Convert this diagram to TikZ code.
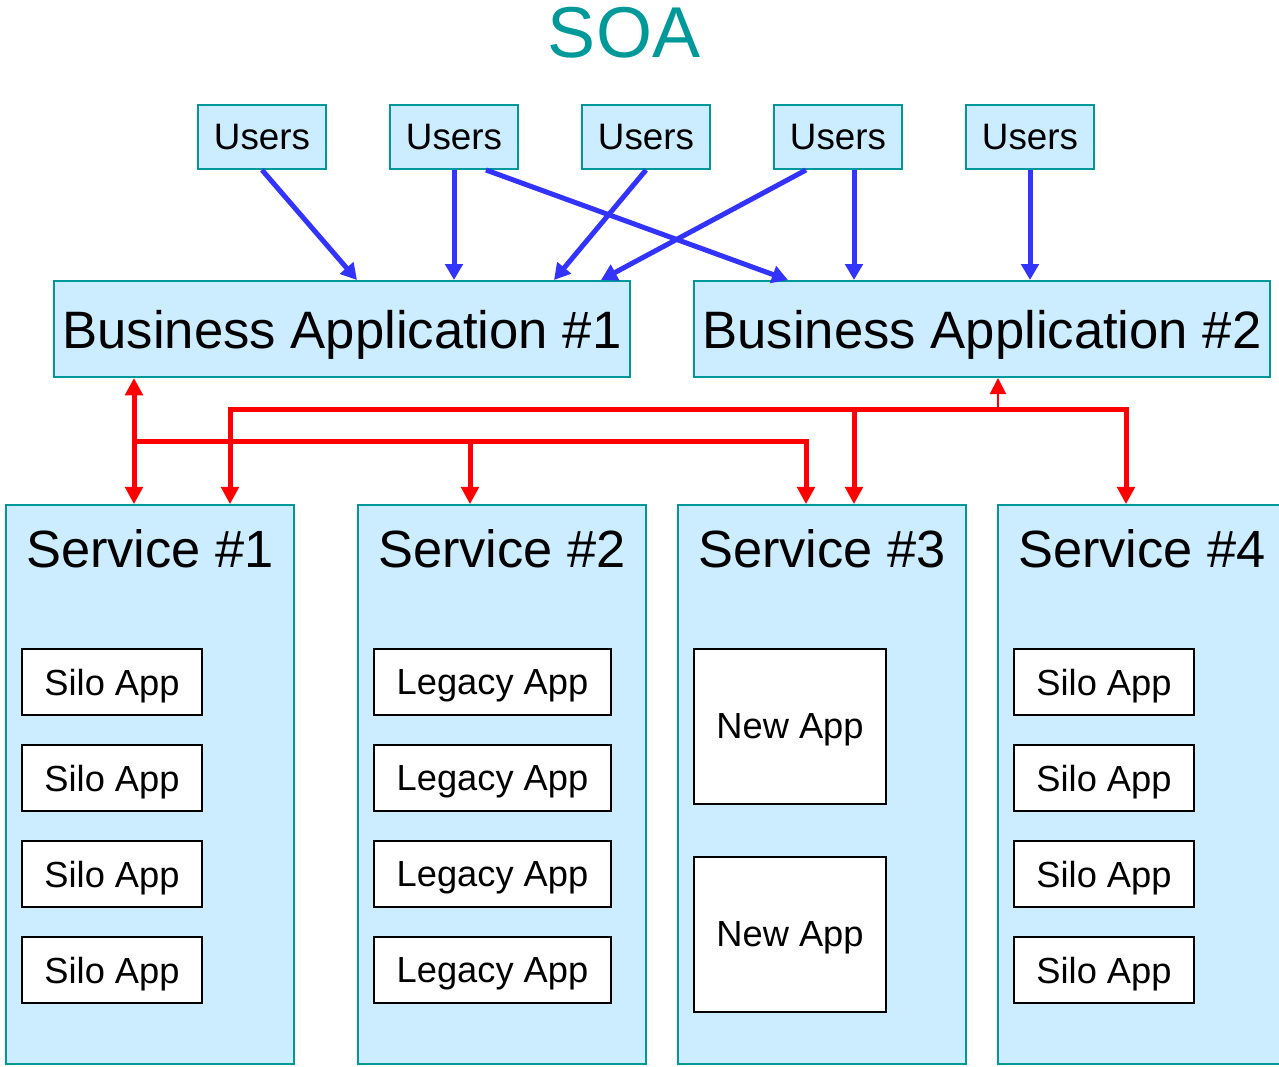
\documentclass[tikz,border=0pt]{standalone}
\usepackage{fontspec}
\setmainfont{Liberation Sans}
\usetikzlibrary{arrows.meta,calc}

\definecolor{soateal}{RGB}{0,153,153}
\definecolor{boxblue}{RGB}{204,236,255}
\definecolor{userblue}{RGB}{51,51,255}

\begin{document}
\begin{tikzpicture}[x=0.75pt,y=-0.75pt,
    users/.style={draw=soateal,fill=boxblue,line width=1.5pt,minimum width=96pt,minimum height=48pt,
      font=\fontsize{27.6}{30}\selectfont},
    bizapp/.style={draw=soateal,fill=boxblue,line width=1.5pt,minimum width=432pt,minimum height=72pt,
      text depth=0pt,font=\fontsize{39.5}{44}\selectfont},
    service/.style={draw=soateal,fill=boxblue,line width=1.5pt,minimum width=216pt,minimum height=419pt},
    svctitle/.style={anchor=north,inner sep=0pt,font=\fontsize{39.3}{42}\selectfont},
    app/.style={draw=black,fill=white,line width=1.5pt,minimum height=49.5pt,
      text depth=0pt,font=\fontsize{27.2}{30}\selectfont},
    userarrow/.style={userblue,line width=3.75pt,-{Triangle[length=12pt,width=13pt]}},
    bus/.style={red,line width=3.75pt},
    bustip/.tip={Triangle[length=13pt,width=13pt]}]
  \clip (0,0) rectangle (1279,1067);
  \fill[white] (0,0) rectangle (1279,1067);
  \node[text=soateal,font=\fontsize{54}{60}\selectfont] (title) at (624,33) {SOA};

  \foreach \x [count=\i] in {262,454,646,838,1030} {
    \node[users] (u\i) at (\x,137) {Users};
  }
  \node[bizapp] (ba1) at (342,329) {Business Application \#1};
  \node[bizapp] (ba2) at (982,329) {Business Application \#2};

  \foreach \x [count=\i] in {150,502,822,1142} {
    \node[service] (s\i) at (\x,784.5) {};
    \node[svctitle] (s\i t) at ($(s\i.north)+(0,25)$) {Service \#\i};
  }
  \foreach \y [count=\j] in {682,778,874,970} {
    \node[app,minimum width=135pt] (a1\j) at (112,\y) {Silo App};
    \node[app,minimum width=177.75pt] (a2\j) at (492.5,\y) {Legacy App};
    \node[app,minimum width=135pt] (a4\j) at (1104,\y) {Silo App};
  }
  \node[app,minimum width=144pt,minimum height=116.25pt] (n1) at (790,726.5) {New App};
  \node[app,minimum width=144pt,minimum height=116.25pt] (n2) at (790,934.5) {New App};

  \draw[userarrow] (u1.south) -- ($(ba1.north)+(15,0)$);
  \draw[userarrow] (u2.south) -- (u2.south |- ba1.north);
  \draw[userarrow] ($(u2.south)+(32,0)$) -- ($(ba2.north west)+(95,0)$);
  \draw[userarrow] (u3.south) -- ($(ba1.north east)+(-77,0)$);
  \draw[userarrow] ($(u4.south)+(-32,0)$) -- ($(ba1.north east)+(-30,0)$);
  \draw[userarrow] ($(u4.south)+(16,0)$) -- ($(ba2.north)+(-128,0)$);
  \draw[userarrow] (u5.south) -- (u5.south |- ba2.north);

  \coordinate (j1) at (134,441);
  \coordinate (k2) at (470,441);
  \coordinate (k3) at (806,441);
  \coordinate (j2) at (230,409);
  \coordinate (m3) at (854,409);
  \coordinate (m0) at (998,409);
  \coordinate (m4) at (1126,409);
  \draw[bus,bustip-bustip] (ba1.south -| j1) -- (s1.north -| j1);
  \draw[bus,-bustip] (j1) -- (k3) -- (k3 |- s3.north);
  \draw[bus,-bustip] (k2) -- (k2 |- s2.north);
  \draw[bus,bustip-bustip] (s1.north -| j2) -- (j2) -- (m4) -- (m4 |- s4.north);
  \draw[bus,-bustip] (m3) -- (m3 |- s3.north);
  \draw[red,line width=1.5pt,-{Triangle[length=12pt,width=12pt]}] (m0) -- (m0 |- ba2.south);
\end{tikzpicture}
\end{document}
